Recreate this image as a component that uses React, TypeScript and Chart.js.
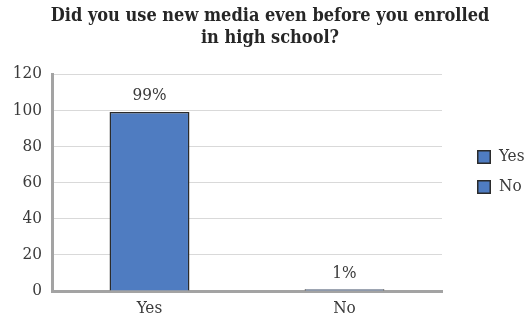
import React, { useEffect, useRef } from "react";
import { Chart, registerables } from "chart.js";

Chart.register(...registerables);

const categories = ["Yes", "No"];
const values = [99, 1];
const valueLabels = ["99%", "1%"];
const legendLabels = ["Yes", "No"];
const yTicks = [0, 20, 40, 60, 80, 100, 120];
const titleLines = ["Did you use new media even before you enrolled", "in high school?"];

const FONT = "'DejaVu Serif Condensed', 'DejaVu Serif', serif";
const BAR = "#4f7cc1";
const BAR_BORDER = "#2b2b2b";
const TEXT = "#3a3a3a";

export default function App() {
  const ref = useRef<HTMLCanvasElement | null>(null);
  useEffect(() => {
    if (!ref.current) return;
    const titlePlugin = {
      id: "customTitle",
      afterDraw(chart: any) {
        const ctx = chart.ctx;
        ctx.save();
        ctx.font = `bold 18px ${FONT}`;
        ctx.fillStyle = "#262626";
        ctx.textAlign = "center";
        ctx.textBaseline = "middle";
        titleLines.forEach((l, i) => ctx.fillText(l, 270, 16 + i * 22));
        ctx.restore();
      },
    };
    const labelPlugin = {
      id: "valueLabels",
      afterDatasetsDraw(chart: any) {
        const ctx = chart.ctx;
        const meta = chart.getDatasetMeta(0);
        ctx.save();
        ctx.font = `17px ${FONT}`;
        ctx.fillStyle = TEXT;
        ctx.textAlign = "center";
        ctx.textBaseline = "middle";
        meta.data.forEach((el: any, i: number) => {
          ctx.fillText(valueLabels[i], el.x, el.y - 16);
        });
        ctx.restore();
      },
    };
    const legendPlugin = {
      id: "customLegend",
      afterDraw(chart: any) {
        const ctx = chart.ctx;
        const x0 = chart.chartArea.right + 35;
        const yStart = 157;
        ctx.save();
        ctx.font = `17px ${FONT}`;
        ctx.textBaseline = "middle";
        ctx.textAlign = "left";
        legendLabels.forEach((l, i) => {
          const y = yStart + i * 30;
          ctx.fillStyle = BAR;
          ctx.fillRect(x0, y - 7, 14, 14);
          ctx.strokeStyle = BAR_BORDER;
          ctx.lineWidth = 1.5;
          ctx.strokeRect(x0 + 0.75, y - 6.25, 12.5, 12.5);
          ctx.fillStyle = TEXT;
          ctx.fillText(l, x0 + 22, y);
        });
        ctx.restore();
      },
    };
    const chart = new Chart(ref.current, {
      type: "bar",
      data: {
        labels: categories,
        datasets: [
          {
            label: "Responses",
            data: values,
            backgroundColor: BAR,
            borderColor: BAR_BORDER,
            borderWidth: 1.5,
            categoryPercentage: 0.82,
            barPercentage: 0.5,
          },
        ],
      },
      options: {
        responsive: false,
        animation: false,
        layout: { padding: { left: 0, right: 87, top: 74, bottom: 0 } },
        plugins: {
          legend: { display: false },
          tooltip: { enabled: false },
          title: { display: false },
        },
        scales: {
          x: {
            grid: { display: false, drawTicks: false },
            border: { display: true, color: "#a3a3a3", width: 3 },
            ticks: { color: TEXT, font: { family: FONT, size: 17 }, padding: 7 },
            afterFit(s: any) {
              s.height = 29;
            },
          },
          y: {
            min: 0,
            max: 120,
            afterBuildTicks(s: any) {
              s.ticks = yTicks.map((v) => ({ value: v }));
            },
            grid: { color: "#d9d9d9", lineWidth: 1, drawTicks: false },
            border: { display: true, color: "#a3a3a3", width: 3 },
            ticks: { color: TEXT, font: { family: FONT, size: 17 }, padding: 10 },
            afterFit(s: any) {
              s.width = 52;
            },
          },
        },
      },
      plugins: [labelPlugin, legendPlugin, titlePlugin],
    });
    return () => chart.destroy();
  }, []);
  return (
    <div style={{ position: "fixed", left: 0, top: 0, width: 529, height: 320, background: "#fff" }}>
      <canvas ref={ref} width={529} height={320} style={{ width: 529, height: 320, display: "block" }} />
    </div>
  );
}
